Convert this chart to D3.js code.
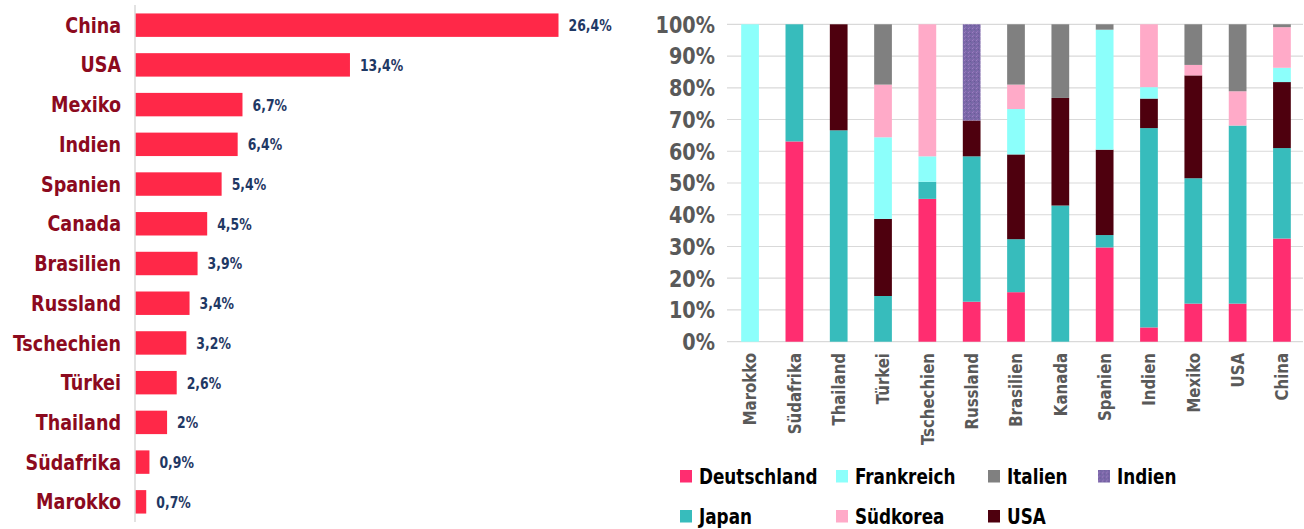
<!DOCTYPE html>
<html>
<head>
<meta charset="utf-8">
<script src="https://cdn.jsdelivr.net/npm/d3@7"></script>
<style>
  body { margin: 0; background: #fff; }
  svg { display: block; }
  text { font-family: "DejaVu Sans Condensed", "DejaVu Sans", sans-serif; font-weight: bold; }
</style>
</head>
<body>
<script>
// left chart: share per country
const countries = ["China", "USA", "Mexiko", "Indien", "Spanien", "Canada", "Brasilien",
    "Russland", "Tschechien", "Türkei", "Thailand", "Südafrika", "Marokko"];
const shares = [26.4, 13.4, 6.7, 6.4, 5.4, 4.5, 3.9, 3.4, 3.2, 2.6, 2, 0.9, 0.7];
const shareLabels = ["26,4%", "13,4%", "6,7%", "6,4%", "5,4%", "4,5%", "3,9%",
    "3,4%", "3,2%", "2,6%", "2%", "0,9%", "0,7%"];

// right chart: origin mix per country (percent, stack order bottom -> top)
const markets = ["Marokko", "Südafrika", "Thailand", "Türkei", "Tschechien", "Russland",
    "Brasilien", "Kanada", "Spanien", "Indien", "Mexiko", "USA", "China"];
const origins = ["Deutschland", "Japan", "USA", "Frankreich", "Südkorea", "Italien", "Indien"];
const deutschland = [0, 63.1, 0, 0, 45.0, 12.6, 15.6, 0, 29.7, 4.5, 12.0, 12.0, 32.5];
const japan       = [0, 36.9, 66.6, 14.4, 5.4, 45.8, 16.7, 42.9, 3.9, 62.8, 39.5, 56.1, 28.5];
const usa         = [0, 0, 33.4, 24.3, 0, 11.3, 26.7, 33.9, 26.9, 9.3, 32.4, 0, 20.8];
const frankreich  = [100, 0, 0, 25.7, 8.0, 0, 14.3, 0, 37.8, 3.6, 0, 0, 4.5];
const suedkorea   = [0, 0, 0, 16.6, 41.6, 0, 7.7, 0, 0, 19.8, 3.3, 10.8, 12.8];
const italien     = [0, 0, 0, 19.0, 0, 0, 19.0, 23.2, 1.7, 0, 12.8, 21.1, 0.9];
const indien      = [0, 0, 0, 0, 0, 30.3, 0, 0, 0, 0, 0, 0, 0];
const yTicks = [0, 10, 20, 30, 40, 50, 60, 70, 80, 90, 100];

const legendRows = [["Deutschland", "Frankreich", "Italien", "Indien"], ["Japan", "Südkorea", "USA"]];

const colors = {
    "Deutschland": "#ff2d70",
    "Japan": "#37bcbc",
    "USA": "#4e000e",
    "Frankreich": "#8cfffb",
    "Südkorea": "#ffaac8",
    "Italien": "#808080",
    "Indien": "url(#indienPattern)"
};

const W = 1304, H = 529;
const svg = d3.select("body").append("svg").attr("width", W).attr("height", H);

// the original uses a narrow DIN-like face, squeeze the condensed font a bit
const squeeze = (x, y, s, rot) => `translate(${x},${y})${rot ? ` rotate(${rot})` : ""} scale(${s},1)`;

// purple speckled fill for Indien
const pat = svg.append("defs").append("pattern")
    .attr("id", "indienPattern")
    .attr("patternUnits", "userSpaceOnUse")
    .attr("width", 4).attr("height", 4);
pat.append("rect").attr("width", 4).attr("height", 4).attr("fill", "#7b67a9");
pat.append("rect").attr("x", 0).attr("y", 0).attr("width", 1).attr("height", 1).attr("fill", "#9a7fbf");
pat.append("rect").attr("x", 2).attr("y", 1).attr("width", 1).attr("height", 1).attr("fill", "#6a5a98");
pat.append("rect").attr("x", 1).attr("y", 3).attr("width", 1).attr("height", 1).attr("fill", "#8f76b6");
pat.append("rect").attr("x", 3).attr("y", 2).attr("width", 1).attr("height", 1).attr("fill", "#6f6aa0");

// ---------- left: horizontal bars ----------
const left = { x0: 135, top: 5, bottom: 522 };
const xL = d3.scaleLinear().domain([0, 26.4]).range([left.x0, 558.5]);
const yL = d3.scaleBand().domain(countries).range([5.5, 521.5]).paddingInner(0.41).paddingOuter(0.2);

const gL = svg.append("g");
gL.selectAll("rect.bar")
    .data(countries)
    .enter()
    .append("rect")
    .attr("class", "bar")
    .attr("x", xL(0))
    .attr("y", d => yL(d))
    .attr("width", (d, i) => xL(shares[i]) - xL(0))
    .attr("height", yL.bandwidth())
    .attr("fill", "#ff2848");

gL.append("line")
    .attr("x1", left.x0).attr("x2", left.x0)
    .attr("y1", left.top).attr("y2", left.bottom)
    .attr("stroke", "#d9d9d9").attr("stroke-width", 1.5);

gL.selectAll("text.cat")
    .data(countries)
    .enter()
    .append("text")
    .attr("class", "cat")
    .attr("transform", d => squeeze(121, yL(d) + yL.bandwidth() / 2, 0.93))
    .attr("dy", "0.36em")
    .attr("text-anchor", "end")
    .attr("font-size", 21)
    .attr("fill", "#8c0a1e")
    .text(d => d);

gL.selectAll("text.val")
    .data(countries)
    .enter()
    .append("text")
    .attr("class", "val")
    .attr("transform", (d, i) => squeeze(xL(shares[i]) + 10, yL(d) + yL.bandwidth() / 2, 0.84))
    .attr("dy", "0.36em")
    .attr("font-size", 16.5)
    .attr("fill", "#1f3864")
    .text((d, i) => shareLabels[i]);

// ---------- right: 100% stacked columns ----------
const plot = { left: 727, right: 1305, top: 24.3, bottom: 341.7 };
const xR = d3.scaleBand().domain(markets).range([plot.left, plot.right]).paddingInner(0.6).paddingOuter(0.32);
const yR = d3.scaleLinear().domain([0, 100]).range([plot.bottom, plot.top]);

const seriesByOrigin = {
    "Deutschland": deutschland, "Japan": japan, "USA": usa, "Frankreich": frankreich,
    "Südkorea": suedkorea, "Italien": italien, "Indien": indien
};
const table = markets.map((m, i) => {
    const row = { market: m };
    origins.forEach(o => { row[o] = seriesByOrigin[o][i]; });
    return row;
});
const stacked = d3.stack().keys(origins)(table);

const gR = svg.append("g");
gR.selectAll("line.grid")
    .data(yTicks)
    .enter()
    .append("line")
    .attr("class", "grid")
    .attr("x1", plot.left).attr("x2", 1303)
    .attr("y1", d => yR(d)).attr("y2", d => yR(d))
    .attr("stroke", "#d9d9d9").attr("stroke-width", 1.2);

gR.selectAll("text.ytick")
    .data(yTicks)
    .enter()
    .append("text")
    .attr("class", "ytick")
    .attr("transform", d => squeeze(715, yR(d), 0.93))
    .attr("dy", "0.36em")
    .attr("text-anchor", "end")
    .attr("font-size", 23)
    .attr("fill", "#595959")
    .text(d => d + "%");

gR.selectAll("g.layer")
    .data(stacked)
    .enter()
    .append("g")
    .attr("class", "layer")
    .attr("fill", d => colors[d.key])
    .selectAll("rect")
    .data(d => d.filter(p => p[1] - p[0] > 0))
    .enter()
    .append("rect")
    .attr("x", d => xR(d.data.market))
    .attr("y", d => yR(d[1]))
    .attr("width", xR.bandwidth())
    .attr("height", d => yR(d[0]) - yR(d[1]));

gR.selectAll("text.xtick")
    .data(markets)
    .enter()
    .append("text")
    .attr("class", "xtick")
    .attr("transform", d => squeeze(xR(d) + xR.bandwidth() / 2, 353, 0.95, -90))
    .attr("dy", "0.36em")
    .attr("text-anchor", "end")
    .attr("font-size", 17.5)
    .attr("fill", "#595959")
    .text(d => d);

// legend
const legendCols = [680, 836, 988, 1098];
const legendRowY = [476.5, 516.5];
legendRows.forEach((row, r) => {
    const g = svg.append("g");
    const items = g.selectAll("g.item")
        .data(row)
        .enter()
        .append("g")
        .attr("class", "item")
        .attr("transform", (d, i) => `translate(${legendCols[i]},${legendRowY[r]})`);
    items.append("rect")
        .attr("x", 0).attr("y", -6.5)
        .attr("width", 12).attr("height", 12.5)
        .attr("fill", d => colors[d]);
    items.append("text")
        .attr("transform", squeeze(19, 0, 0.85))
        .attr("dy", "0.36em")
        .attr("font-size", 22)
        .attr("fill", "#000")
        .text(d => d);
});
</script>
</body>
</html>
